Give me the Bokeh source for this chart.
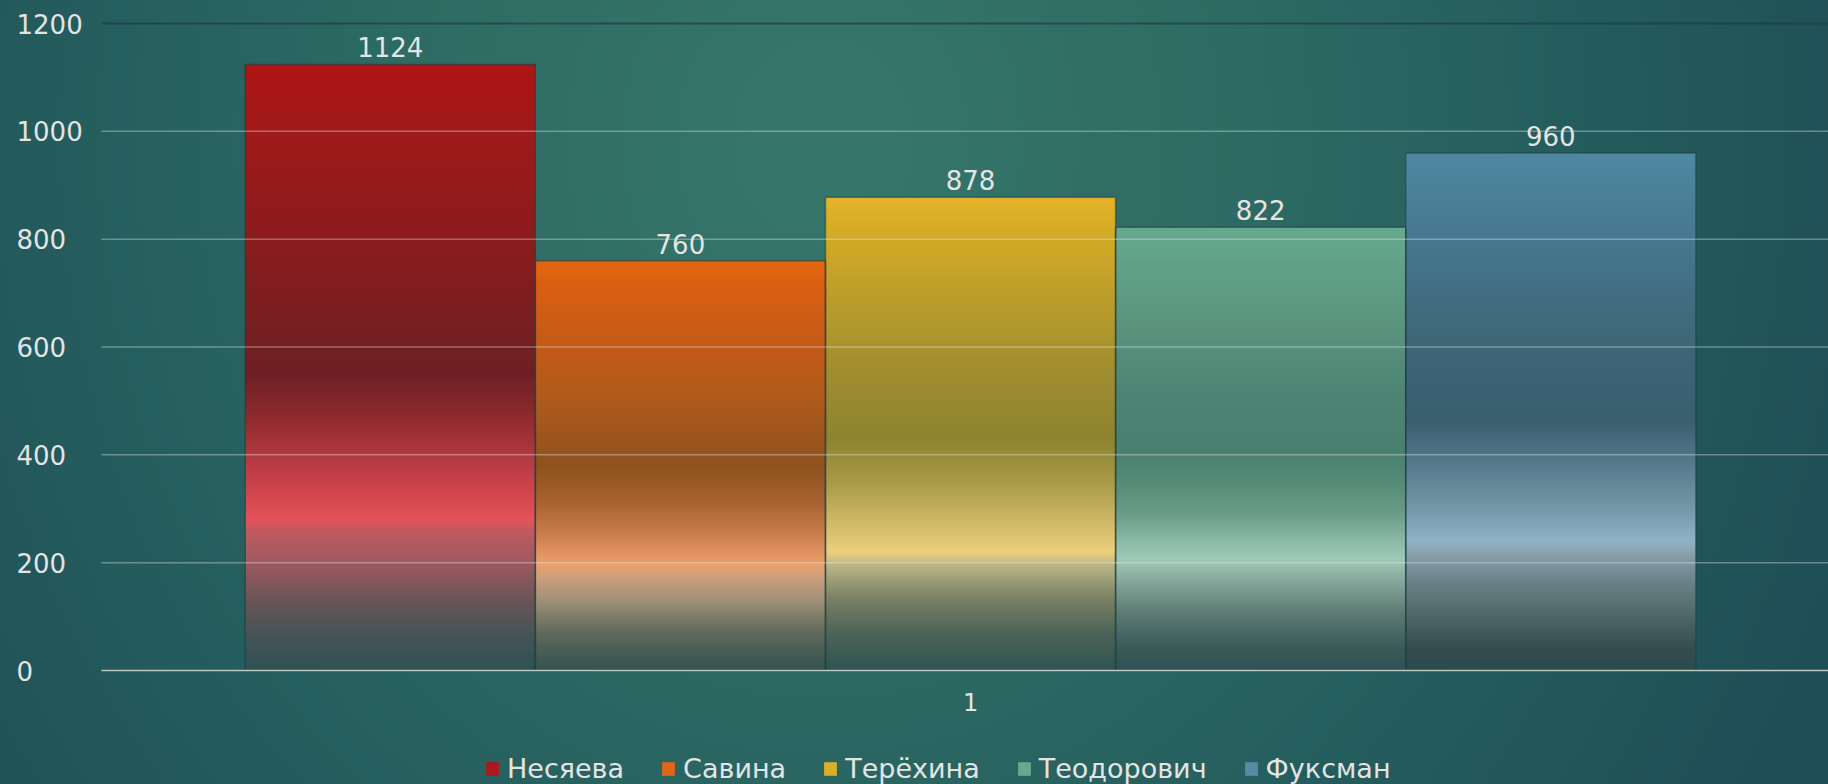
import numpy as np
from bokeh.plotting import figure
from bokeh.models import (Range1d, FixedTicker, Legend, LegendItem,
                          LabelSet, ColumnDataSource)
from bokeh.core.properties import value
from bokeh.embed import file_html
from bokeh.resources import INLINE

# ---------------- data ----------------
categories = ["1"]
names = ["Несяева", "Савина", "Терёхина", "Теодорович", "Фуксман"]
values = [1124, 760, 878, 822, 960]
y_ticks = [0, 200, 400, 600, 800, 1000, 1200]

# ---------------- styles ----------------
legend_colors = ["#a81a1e", "#e0661a", "#d8b02c", "#68a88e", "#5a8aa2"]
bar_stops = [
    [(0.00, "#2f5254"), (0.06, "#465456"), (0.115, "#6a5558"), (0.18, "#a05a60"),
     (0.23, "#c05a60"), (0.25, "#e5545a"), (0.28, "#d84850"), (0.36, "#b03840"),
     (0.42, "#8e2a2e"), (0.49, "#6e2024"), (0.62, "#7f1e20"), (0.71, "#8c1c1e"),
     (0.89, "#a01a1a"), (1.00, "#b01515")],
    [(0.00, "#34524f"), (0.09, "#5e6a5c"), (0.17, "#a09078"), (0.23, "#d0a07c"),
     (0.26, "#eea06e"), (0.33, "#cc7e50"), (0.41, "#a86432"), (0.50, "#8e521f"),
     (0.54, "#98541e"), (0.66, "#b05a1c"), (0.79, "#c45a18"), (0.945, "#dc6012"),
     (1.00, "#e46810")],
    [(0.00, "#2e5552"), (0.08, "#4e6458"), (0.15, "#7a8064"), (0.22, "#b8b486"),
     (0.25, "#ecd07c"), (0.33, "#c8b462"), (0.40, "#a89a48"), (0.49, "#8e8430"),
     (0.61, "#9e8c30"), (0.75, "#b69a2c"), (0.93, "#d6ac26"), (1.00, "#e6b42a")],
    [(0.00, "#2e5454"), (0.05, "#3a5a58"), (0.13, "#5e7c74"), (0.20, "#86a89c"),
     (0.25, "#9ecab8"), (0.29, "#8cbca8"), (0.35, "#6c9e8a"), (0.43, "#548a76"),
     (0.50, "#4a8070"), (0.62, "#4e8474"), (0.80, "#5c9680"), (1.00, "#66aa8e")],
    [(0.00, "#2c4a4e"), (0.04, "#344c50"), (0.10, "#4e6466"), (0.17, "#6a8288"),
     (0.23, "#8aa4b0"), (0.25, "#90b4c6"), (0.33, "#6e92a2"), (0.42, "#4e7486"),
     (0.48, "#3a6070"), (0.62, "#3e6676"), (0.71, "#426c80"), (0.83, "#467890"),
     (1.00, "#5088a2")],
]

TEXT = "#e4e4e4"
FONT = "DejaVu Sans"

W, H = 1828, 784
PX = 1 / 1727                          # x units per pixel
bar_w = 0.168
group_center = 0.5
x_start, x_end = -0.0032 - 101 * PX, 0.9968   # frame spans the whole width
plot_left = -0.0032                    # where the grid lines start (px 101)
y_start, y_end = -211.4, 1242.7       # frame spans the whole height


def gradient_image(stops, n=600):
    fr = np.array([s[0] for s in stops])
    cols = np.array([[int(c[i:i + 2], 16) for i in (1, 3, 5)] for _, c in stops], float)
    t = (np.arange(n) + 0.5) / n
    img = np.empty((n, 2), dtype=np.uint32)
    view = img.view(dtype=np.uint8).reshape((n, 2, 4))
    for k in range(3):
        view[:, :, k] = np.interp(t, fr, cols[:, k]).astype(np.uint8)[:, None]
    view[:, :, 3] = 255
    return img


n = len(values)
centers = [group_center + (i - (n - 1) / 2) * bar_w for i in range(n)]
lefts = [c - bar_w / 2 for c in centers]

p = figure(width=W, height=H,
           x_range=Range1d(x_start, x_end), y_range=Range1d(y_start, y_end),
           y_axis_location="right",
           output_backend="svg", toolbar_location=None,
           min_border_left=0, min_border_right=0, min_border_top=0,
           min_border_bottom=0)
p.styles = {
    "background": "radial-gradient(ellipse 60% 160% at 45% 18%, #37776b 0%, "
                  "#2d6a63 40%, #245c5d 70%, #1e4e56 100%)",
}
p.background_fill_color = None
p.border_fill_color = None
p.outline_line_color = None

src = ColumnDataSource(dict(
    x=centers, left=lefts, top=values, name=names, color=legend_colors,
    label=[str(v) for v in values],
))

# filled bars (base, used for legend glyphs), drawn under the gradient images
base = []
for i in range(n):
    r = p.vbar(x=centers[i], width=bar_w, top=values[i], bottom=0,
               fill_color=legend_colors[i], line_color=None, level="image")
    base.append(r)

for i in range(n):
    p.image_rgba(image=[gradient_image(bar_stops[i])], x=lefts[i], y=0,
                 dw=bar_w, dh=values[i], level="image")

p.vbar(x="x", width=bar_w, top="top", bottom=0, source=src,
       fill_alpha=0, line_color="#1c3e40", line_alpha=0.6, line_width=1.5)

# horizontal grid lines (start at the plot area's left edge)
p.xgrid.visible = False
p.ygrid.visible = False
mid_ticks = y_ticks[1:-1]
p.segment(x0=[plot_left] * len(mid_ticks), y0=mid_ticks,
          x1=[x_end] * len(mid_ticks), y1=mid_ticks,
          line_color="#dfe8e4", line_alpha=0.38, line_width=1.5, level="guide")
p.segment(x0=[plot_left], y0=y_ticks[-1:], x1=[x_end], y1=y_ticks[-1:],
          line_color="#1a4042", line_alpha=0.7, line_width=2, level="guide")

# y axis: labels start at px 16, left aligned
p.yaxis.fixed_location = x_start + 16 * PX
p.yaxis.ticker = FixedTicker(ticks=y_ticks)
p.yaxis.axis_line_color = None
p.yaxis.major_tick_line_color = None
p.yaxis.minor_tick_line_color = None
p.yaxis.major_tick_out = 0
p.yaxis.major_tick_in = 0
p.yaxis.major_label_standoff = 0
p.yaxis.major_label_text_font = FONT
p.yaxis.major_label_text_font_size = "26px"
p.yaxis.major_label_text_color = TEXT

# x axis at value 0
p.xaxis.fixed_location = 0
p.xaxis.bounds = (plot_left, x_end)
p.xaxis.ticker = FixedTicker(ticks=[group_center])
p.xaxis.major_label_overrides = {group_center: categories[0]}
p.xaxis.axis_line_color = "#b8c8c0"
p.xaxis.axis_line_width = 1.5
p.xaxis.major_tick_line_color = None
p.xaxis.minor_tick_line_color = None
p.xaxis.major_tick_out = 0
p.xaxis.major_tick_in = 0
p.xaxis.major_label_standoff = 22
p.xaxis.major_label_text_font = FONT
p.xaxis.major_label_text_font_size = "24px"
p.xaxis.major_label_text_color = TEXT

# value labels
labels = LabelSet(x="x", y="top", text="label", source=src, y_offset=7,
                  text_align="center", text_baseline="alphabetic",
                  text_font=value(FONT), text_font_size="26px", text_color=TEXT)
p.add_layout(labels)

legend = Legend(items=[LegendItem(label=names[i], renderers=[base[i]]) for i in range(n)],
                orientation="horizontal", location=(484, 0),
                background_fill_alpha=0, border_line_alpha=0, padding=0,
                spacing=36, label_standoff=7, glyph_width=16, glyph_height=17,
                label_text_font=FONT, label_text_font_size="27px",
                label_text_color=TEXT, margin=0)
p.add_layout(legend, "center")

open("out.html", "w").write(file_html(p, INLINE))
